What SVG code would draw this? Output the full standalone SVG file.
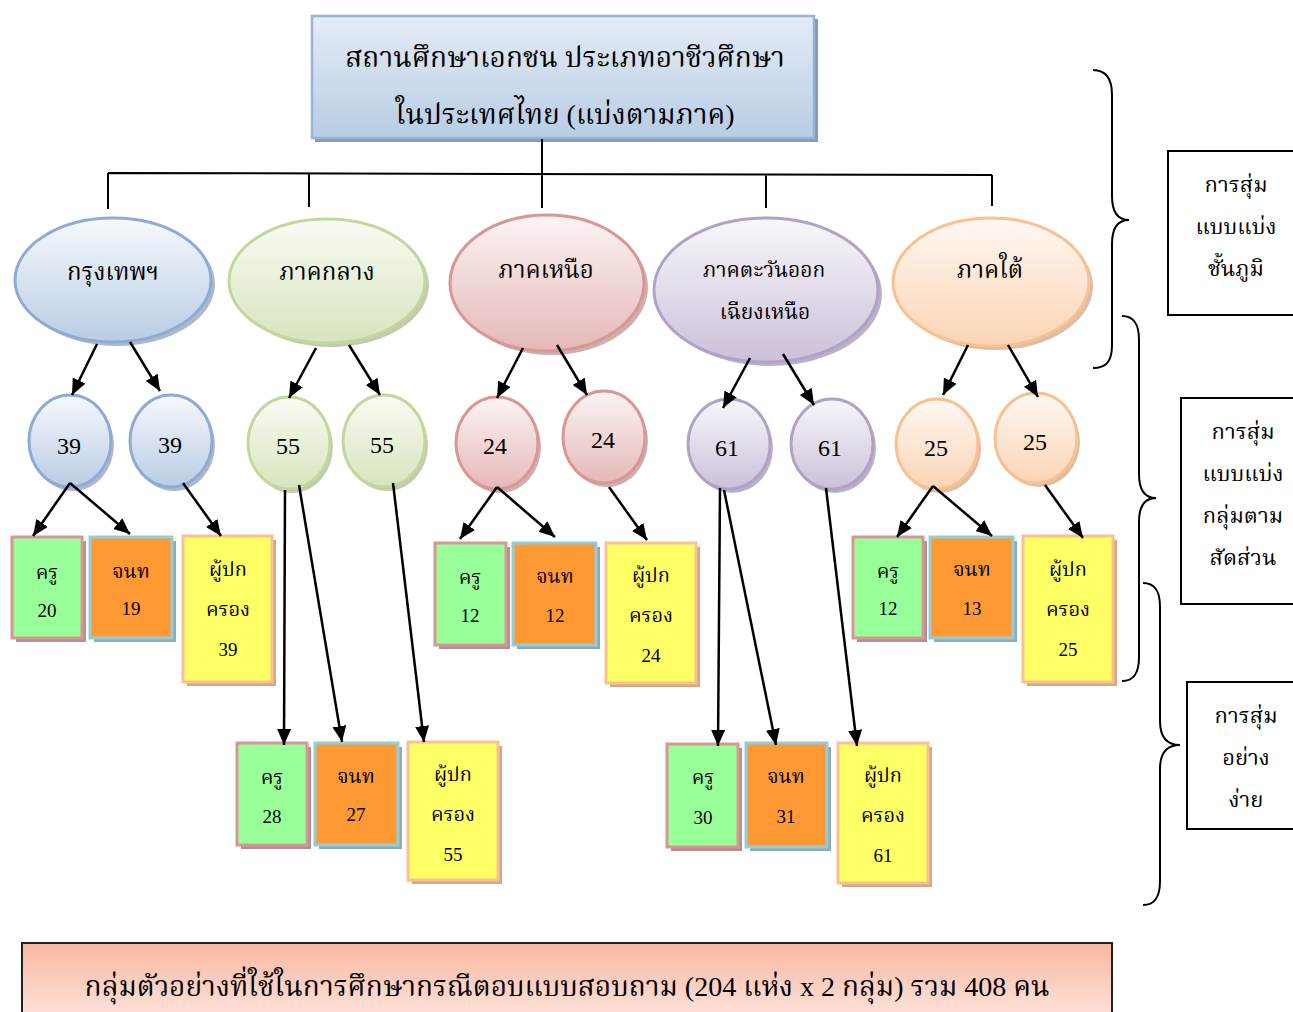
<svg xmlns="http://www.w3.org/2000/svg" width="1293" height="1012" viewBox="0 0 1293 1012">
<defs>
<style>
.t{font-family:"Liberation Serif","Noto Serif Thai","Noto Sans Thai",serif;fill:#000;text-anchor:middle}
.line{stroke:#000;stroke-width:2;fill:none}
.arr{stroke:#000;stroke-width:2.5;fill:none;marker-end:url(#ah)}
.brace{stroke:#000;stroke-width:2;fill:none}
.rbox{fill:#fff;stroke:#000;stroke-width:2}
.kru{fill:#99ff99;stroke:#d99694;stroke-width:3}
.kru-s{fill:#b39193}
.jnt{fill:#ff9933;stroke:#92cddc;stroke-width:3}
.jnt-s{fill:#93a9b0}
.par{fill:#ffff66;stroke:#fac090;stroke-width:3}
.par-s{fill:#d3a88a}
</style>
<marker id="ah" markerUnits="userSpaceOnUse" markerWidth="18" markerHeight="16" refX="16" refY="7" orient="auto">
<path d="M0,0 L16,7 L0,14 Z" fill="#000"/>
</marker>
<linearGradient id="gTop" x1="0" y1="0" x2="0" y2="1"><stop offset="0" stop-color="#e4ecf6"/><stop offset="1" stop-color="#b8cce4"/></linearGradient>
<linearGradient id="gBlue" x1="0" y1="0" x2="0" y2="1"><stop offset="0" stop-color="#f7f9fc"/><stop offset="1" stop-color="#b9cce4"/></linearGradient>
<linearGradient id="gGreen" x1="0" y1="0" x2="0" y2="1"><stop offset="0" stop-color="#f9fbf4"/><stop offset="1" stop-color="#d7e4bd"/></linearGradient>
<linearGradient id="gRed" x1="0" y1="0" x2="0" y2="1"><stop offset="0" stop-color="#fbf4f4"/><stop offset="1" stop-color="#e5b8b7"/></linearGradient>
<linearGradient id="gPurple" x1="0" y1="0" x2="0" y2="1"><stop offset="0" stop-color="#f8f7fa"/><stop offset="1" stop-color="#ccc0da"/></linearGradient>
<linearGradient id="gOrange" x1="0" y1="0" x2="0" y2="1"><stop offset="0" stop-color="#fef8f3"/><stop offset="1" stop-color="#fbd4b4"/></linearGradient>
<linearGradient id="gBanner" x1="0" y1="0" x2="0" y2="1"><stop offset="0" stop-color="#fab7a0"/><stop offset="1" stop-color="#fde6df"/></linearGradient>
</defs>

<g id="title">
<rect x="315" y="19" width="503" height="123" fill="#8a9ab0"/>
<rect x="312" y="16" width="502" height="122" fill="url(#gTop)" stroke="#95b3d7" stroke-width="2.5"/>
<text class="t" x="565" y="67" font-size="28">สถานศึกษาเอกชน ประเภทอาชีวศึกษา</text>
<text class="t" x="565" y="124" font-size="28">ในประเทศไทย (แบ่งตามภาค)</text>
</g>

<g id="region-bangkok">
<ellipse cx="117" cy="284" rx="98" ry="62" fill="#8a9bb3" opacity="0.7"/>
<ellipse cx="113" cy="280" rx="98" ry="62" fill="url(#gBlue)" stroke="#8eaad5" stroke-width="3"/>
<text class="t" x="113" y="280" font-size="24">กรุงเทพฯ</text>
</g>
<g id="region-central">
<ellipse cx="331" cy="285" rx="98" ry="62" fill="#a8b58e" opacity="0.7"/>
<ellipse cx="327" cy="281" rx="98" ry="62" fill="url(#gGreen)" stroke="#c3d69b" stroke-width="3"/>
<text class="t" x="327" y="280" font-size="24">ภาคกลาง</text>
</g>
<g id="region-north">
<ellipse cx="551" cy="287" rx="97" ry="68" fill="#b58e8d" opacity="0.7"/>
<ellipse cx="547" cy="283" rx="97" ry="68" fill="url(#gRed)" stroke="#d99694" stroke-width="3"/>
<text class="t" x="546" y="278" font-size="24">ภาคเหนือ</text>
</g>
<g id="region-northeast">
<ellipse cx="770" cy="294" rx="112" ry="72" fill="#9c90ab" opacity="0.7"/>
<ellipse cx="766" cy="290" rx="112" ry="72" fill="url(#gPurple)" stroke="#b2a1c7" stroke-width="3"/>
<text class="t" x="764" y="277" font-size="21">ภาคตะวันออก</text>
<text class="t" x="765" y="319" font-size="21">เฉียงเหนือ</text>
</g>
<g id="region-south">
<ellipse cx="995" cy="286" rx="98" ry="64" fill="#c9a283" opacity="0.7"/>
<ellipse cx="991" cy="282" rx="98" ry="64" fill="url(#gOrange)" stroke="#fac090" stroke-width="3"/>
<text class="t" x="990" y="278" font-size="24">ภาคใต้</text>
</g>

<g id="c-bkk-1"><ellipse cx="73" cy="445" rx="41" ry="46" fill="#8a9bb3" opacity="0.7"/><ellipse cx="70" cy="441" rx="41" ry="46" fill="url(#gBlue)" stroke="#8eaad5" stroke-width="3"/><text class="t" x="69" y="454" font-size="24">39</text></g>
<g id="c-bkk-2"><ellipse cx="174" cy="445" rx="41" ry="46" fill="#8a9bb3" opacity="0.7"/><ellipse cx="171" cy="441" rx="41" ry="46" fill="url(#gBlue)" stroke="#8eaad5" stroke-width="3"/><text class="t" x="170" y="453" font-size="24">39</text></g>
<g id="c-cen-1"><ellipse cx="292" cy="447" rx="41" ry="46" fill="#a8b58e" opacity="0.7"/><ellipse cx="289" cy="443" rx="41" ry="46" fill="url(#gGreen)" stroke="#c3d69b" stroke-width="3"/><text class="t" x="288" y="454" font-size="24">55</text></g>
<g id="c-cen-2"><ellipse cx="387" cy="445" rx="41" ry="46" fill="#a8b58e" opacity="0.7"/><ellipse cx="384" cy="441" rx="41" ry="46" fill="url(#gGreen)" stroke="#c3d69b" stroke-width="3"/><text class="t" x="382" y="453" font-size="24">55</text></g>
<g id="c-nor-1"><ellipse cx="500" cy="447" rx="41" ry="46" fill="#b58e8d" opacity="0.7"/><ellipse cx="497" cy="443" rx="41" ry="46" fill="url(#gRed)" stroke="#d99694" stroke-width="3"/><text class="t" x="495" y="454" font-size="24">24</text></g>
<g id="c-nor-2"><ellipse cx="607" cy="441" rx="41" ry="46" fill="#b58e8d" opacity="0.7"/><ellipse cx="604" cy="437" rx="41" ry="46" fill="url(#gRed)" stroke="#d99694" stroke-width="3"/><text class="t" x="603" y="448" font-size="24">24</text></g>
<g id="c-ne-1"><ellipse cx="732" cy="448" rx="41" ry="45" fill="#9c90ab" opacity="0.7"/><ellipse cx="729" cy="444" rx="41" ry="45" fill="url(#gPurple)" stroke="#b2a1c7" stroke-width="3"/><text class="t" x="727" y="456" font-size="24">61</text></g>
<g id="c-ne-2"><ellipse cx="835" cy="448" rx="41" ry="45" fill="#9c90ab" opacity="0.7"/><ellipse cx="832" cy="444" rx="41" ry="45" fill="url(#gPurple)" stroke="#b2a1c7" stroke-width="3"/><text class="t" x="830" y="456" font-size="24">61</text></g>
<g id="c-sou-1"><ellipse cx="940" cy="448" rx="41" ry="45" fill="#c9a283" opacity="0.7"/><ellipse cx="937" cy="444" rx="41" ry="45" fill="url(#gOrange)" stroke="#fac090" stroke-width="3"/><text class="t" x="936" y="456" font-size="24">25</text></g>
<g id="c-sou-2"><ellipse cx="1039" cy="442" rx="41" ry="45" fill="#c9a283" opacity="0.7"/><ellipse cx="1036" cy="438" rx="41" ry="45" fill="url(#gOrange)" stroke="#fac090" stroke-width="3"/><text class="t" x="1035" y="450" font-size="24">25</text></g>

<g id="b-bkk-kru"><rect class="kru-s" x="16" y="541" width="70" height="101"/><rect class="kru" x="12" y="537" width="70" height="101"/><text class="t" x="47" y="579" font-size="20">ครู</text><text class="t" x="47" y="617" font-size="19">20</text></g>
<g id="b-bkk-jnt"><rect class="jnt-s" x="94" y="541" width="82" height="101"/><rect class="jnt" x="90" y="537" width="82" height="101"/><text class="t" x="131" y="578" font-size="20">จนท</text><text class="t" x="131" y="615" font-size="19">19</text></g>
<g id="b-bkk-par"><rect class="par-s" x="187" y="540" width="89" height="146"/><rect class="par" x="183" y="536" width="89" height="146"/><text class="t" x="228" y="576" font-size="20">ผู้ปก</text><text class="t" x="228" y="616" font-size="20">ครอง</text><text class="t" x="228" y="656" font-size="19">39</text></g>

<g id="b-nor-kru"><rect class="kru-s" x="439" y="547" width="71" height="102"/><rect class="kru" x="435" y="543" width="71" height="102"/><text class="t" x="470" y="584" font-size="20">ครู</text><text class="t" x="470" y="622" font-size="19">12</text></g>
<g id="b-nor-jnt"><rect class="jnt-s" x="517" y="547" width="83" height="102"/><rect class="jnt" x="513" y="543" width="83" height="102"/><text class="t" x="555" y="583" font-size="20">จนท</text><text class="t" x="555" y="622" font-size="19">12</text></g>
<g id="b-nor-par"><rect class="par-s" x="610" y="547" width="90" height="140"/><rect class="par" x="606" y="543" width="90" height="140"/><text class="t" x="651" y="582" font-size="20">ผู้ปก</text><text class="t" x="651" y="622" font-size="20">ครอง</text><text class="t" x="651" y="662" font-size="19">24</text></g>

<g id="b-sou-kru"><rect class="kru-s" x="857" y="541" width="70" height="101"/><rect class="kru" x="853" y="537" width="70" height="101"/><text class="t" x="888" y="578" font-size="20">ครู</text><text class="t" x="888" y="615" font-size="19">12</text></g>
<g id="b-sou-jnt"><rect class="jnt-s" x="934" y="541" width="83" height="101"/><rect class="jnt" x="930" y="537" width="83" height="101"/><text class="t" x="972" y="576" font-size="20">จนท</text><text class="t" x="972" y="615" font-size="19">13</text></g>
<g id="b-sou-par"><rect class="par-s" x="1027" y="540" width="90" height="146"/><rect class="par" x="1023" y="536" width="90" height="146"/><text class="t" x="1068" y="576" font-size="20">ผู้ปก</text><text class="t" x="1068" y="616" font-size="20">ครอง</text><text class="t" x="1068" y="656" font-size="19">25</text></g>

<g id="b-cen-kru"><rect class="kru-s" x="241" y="747" width="70" height="102"/><rect class="kru" x="237" y="743" width="70" height="102"/><text class="t" x="272" y="784" font-size="20">ครู</text><text class="t" x="272" y="823" font-size="19">28</text></g>
<g id="b-cen-jnt"><rect class="jnt-s" x="319" y="747" width="83" height="102"/><rect class="jnt" x="315" y="743" width="83" height="102"/><text class="t" x="356" y="783" font-size="20">จนท</text><text class="t" x="356" y="821" font-size="19">27</text></g>
<g id="b-cen-par"><rect class="par-s" x="412" y="746" width="90" height="138"/><rect class="par" x="408" y="742" width="90" height="138"/><text class="t" x="453" y="781" font-size="20">ผู้ปก</text><text class="t" x="453" y="821" font-size="20">ครอง</text><text class="t" x="453" y="861" font-size="19">55</text></g>

<g id="b-ne-kru"><rect class="kru-s" x="671" y="748" width="71" height="103"/><rect class="kru" x="667" y="744" width="71" height="103"/><text class="t" x="703" y="784" font-size="20">ครู</text><text class="t" x="703" y="824" font-size="19">30</text></g>
<g id="b-ne-jnt"><rect class="jnt-s" x="750" y="747" width="81" height="104"/><rect class="jnt" x="746" y="743" width="81" height="104"/><text class="t" x="786" y="783" font-size="20">จนท</text><text class="t" x="786" y="823" font-size="19">31</text></g>
<g id="b-ne-par"><rect class="par-s" x="842" y="747" width="90" height="140"/><rect class="par" x="838" y="743" width="90" height="140"/><text class="t" x="883" y="782" font-size="20">ผู้ปก</text><text class="t" x="883" y="822" font-size="20">ครอง</text><text class="t" x="883" y="862" font-size="19">61</text></g>

<g id="label-stratified">
<rect class="rbox" x="1168" y="151" width="140" height="164"/>
<text class="t" x="1236" y="192" font-size="22">การสุ่ม</text>
<text class="t" x="1236" y="234" font-size="22">แบบแบ่ง</text>
<text class="t" x="1236" y="276" font-size="22">ชั้นภูมิ</text>
</g>
<g id="label-proportional">
<rect class="rbox" x="1181" y="398" width="130" height="206"/>
<text class="t" x="1243" y="439" font-size="22">การสุ่ม</text>
<text class="t" x="1243" y="481" font-size="22">แบบแบ่ง</text>
<text class="t" x="1243" y="523" font-size="22">กลุ่มตาม</text>
<text class="t" x="1243" y="565" font-size="22">สัดส่วน</text>
</g>
<g id="label-simple">
<rect class="rbox" x="1187" y="682" width="125" height="147"/>
<text class="t" x="1246" y="723" font-size="22">การสุ่ม</text>
<text class="t" x="1246" y="765" font-size="22">อย่าง</text>
<text class="t" x="1246" y="807" font-size="22">ง่าย</text>
</g>

<g id="banner">
<rect x="22" y="943" width="1090" height="80" fill="url(#gBanner)" stroke="#222" stroke-width="2"/>
<text class="t" x="567" y="996" font-size="28">กลุ่มตัวอย่างที่ใช้ในการศึกษากรณีตอบแบบสอบถาม (204 แห่ง x 2 กลุ่ม) รวม 408 คน</text>
</g>

<g id="connectors">
<path class="line" d="M542,139 V174 M108,173 L992,175 M108,173 V209 M309,173 V207 M542,174 V208 M766,174 V208 M992,175 V206"/>
<line class="arr" x1="97" y1="344" x2="72" y2="395"/>
<line class="arr" x1="130" y1="342" x2="160" y2="391"/>
<line class="arr" x1="316" y1="348" x2="289" y2="398"/>
<line class="arr" x1="349" y1="345" x2="380" y2="395"/>
<line class="arr" x1="523" y1="348" x2="497" y2="398"/>
<line class="arr" x1="557" y1="345" x2="587" y2="395"/>
<line class="arr" x1="750" y1="358" x2="723" y2="408"/>
<line class="arr" x1="783" y1="354" x2="814" y2="405"/>
<line class="arr" x1="968" y1="345" x2="943" y2="395"/>
<line class="arr" x1="1008" y1="345" x2="1038" y2="397"/>
<line class="arr" x1="70" y1="483" x2="33" y2="536"/>
<line class="arr" x1="70" y1="483" x2="130" y2="534"/>
<line class="arr" x1="183" y1="483" x2="221" y2="536"/>
<line class="arr" x1="285" y1="490" x2="284" y2="745"/>
<line class="arr" x1="299" y1="485" x2="342" y2="742"/>
<line class="arr" x1="393" y1="483" x2="424" y2="742"/>
<line class="arr" x1="497" y1="487" x2="460" y2="539"/>
<line class="arr" x1="497" y1="487" x2="555" y2="537"/>
<line class="arr" x1="609" y1="487" x2="647" y2="540"/>
<line class="arr" x1="720" y1="488" x2="718" y2="746"/>
<line class="arr" x1="724" y1="490" x2="776" y2="745"/>
<line class="arr" x1="826" y1="488" x2="857" y2="746"/>
<line class="arr" x1="933" y1="486" x2="897" y2="537"/>
<line class="arr" x1="933" y1="486" x2="992" y2="536"/>
<line class="arr" x1="1045" y1="485" x2="1083" y2="538"/>
<path class="brace" d="M1093,70 C1106,70 1112,78 1112,95 L1112,196 C1112,212 1118,220 1129,220 C1118,220 1112,228 1112,244 L1112,345 C1112,362 1106,368 1093,368"/>
<path class="brace" d="M1122,316 C1134,316 1139,324 1139,340 L1139,474 C1139,490 1145,498 1156,498 C1145,498 1139,506 1139,522 L1139,657 C1139,673 1134,681 1122,681"/>
<path class="brace" d="M1143,583 C1155,583 1160,591 1160,607 L1160,721 C1160,737 1167,745 1180,745 C1167,745 1160,753 1160,769 L1160,881 C1160,897 1155,905 1143,905"/>
</g>
</svg>
